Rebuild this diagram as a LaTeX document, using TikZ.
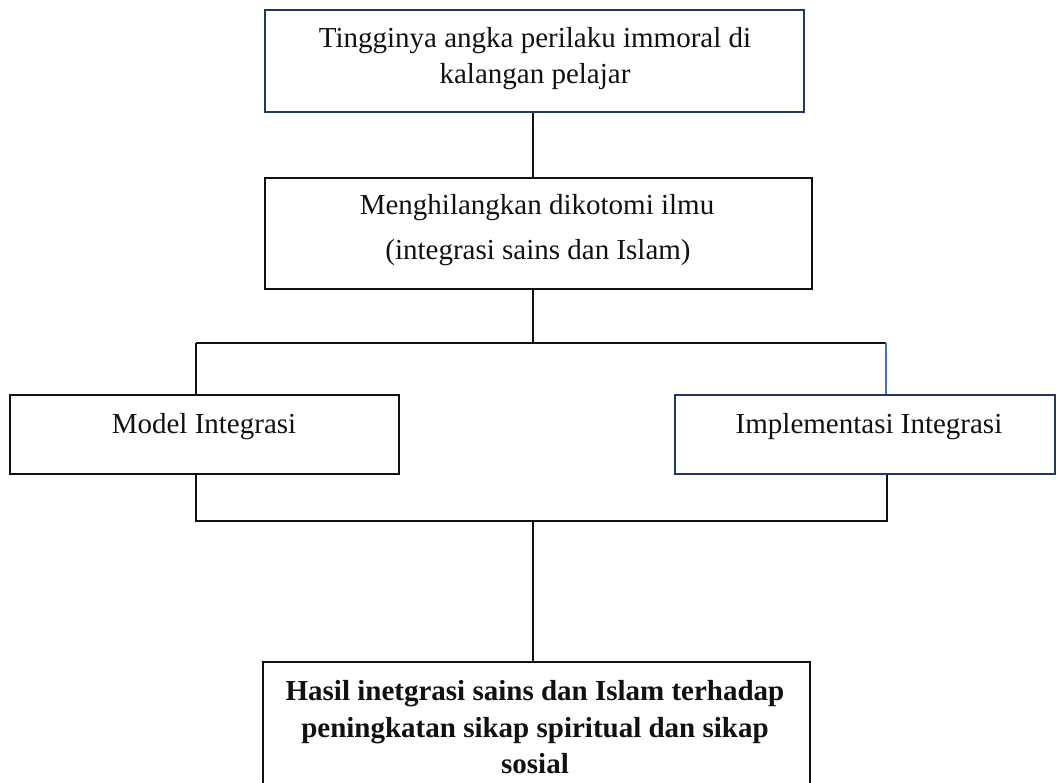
\documentclass[tikz,border=0pt]{standalone}
\usepackage{fontspec}
\setmainfont{Liberation Serif}
\definecolor{navy}{HTML}{203864}
\definecolor{lblue}{HTML}{4472C4}
\definecolor{ink}{HTML}{111111}
\begin{document}
\begin{tikzpicture}[x=1pt,y=-1pt,
  boxk/.style={draw=ink, line width=2.4pt, inner sep=0pt, anchor=north west},
  boxn/.style={draw=navy, line width=2pt, inner sep=0pt, anchor=north west},
  txt/.style={anchor=base, inner sep=0pt, text=ink, font=\fontsize{29}{37}\selectfont},
  btxt/.style={txt, font=\fontsize{29}{37}\selectfont\bfseries},
  conn/.style={draw=ink, line width=1.1pt}]
\useasboundingbox (0,0) rectangle (1057,783);
% boxes
\node[boxn, minimum width=539pt, minimum height=102pt] (top) at (264,9) {};
\node[boxk, minimum width=547pt, minimum height=111pt] (mid) at (264,177) {};
\node[boxk, minimum width=389pt, minimum height=79pt] (left) at (9,394) {};
\node[boxn, minimum width=380pt, minimum height=79pt] (right) at (674,394) {};
\node[boxk, minimum width=547pt, minimum height=140pt] (bot) at (262,661) {};
% texts
\node[txt] (t1) at (535,48) {Tingginya angka perilaku immoral di};
\node[txt] (t2) at (535,84) {kalangan pelajar};
\node[txt] (m1) at (537,215) {Menghilangkan dikotomi ilmu};
\node[txt] (m2) at (538,260) {(integrasi sains dan Islam)};
\node[txt] (l1) at (204,433) {Model Integrasi};
\node[txt] (r1) at (869,433) {Implementasi Integrasi};
\node[btxt] (b1) at (535,700) {Hasil inetgrasi sains dan Islam terhadap};
\node[btxt] (b2) at (535,737) {peningkatan sikap spiritual dan sikap};
\node[btxt] (b3) at (535,773) {sosial};
% junction coordinates
\coordinate (ja) at (533,130);
\coordinate (j1) at (533,343);
\coordinate (jl) at (196,343);
\coordinate (jr) at (886,343);
\coordinate (kl) at (196,521);
\coordinate (kr) at (887,521);
\coordinate (kc) at (533,521);
% connectors
\draw[conn] (ja |- top.south) -- (ja |- mid.north);
\draw[conn] (j1 |- mid.south) -- (j1);
\draw[conn] (jl) -- (jr);
\draw[conn] (jl) -- (jl |- left.north);
\draw[conn, draw=lblue] (jr) -- (jr |- right.north);
\draw[conn] (kl |- left.south) -- (kl) -- (kr) -- (kr |- right.south);
\draw[conn] (kc) -- (kc |- bot.north);
\end{tikzpicture}
\end{document}
